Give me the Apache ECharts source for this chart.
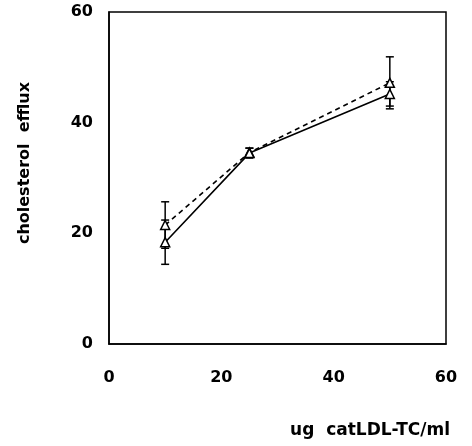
<!DOCTYPE html>
<html><head><meta charset="utf-8">
<script src="https://cdn.jsdelivr.net/npm/echarts@6/dist/echarts.min.js"></script>
<style>html,body{margin:0;padding:0;background:#fff}#c{width:472px;height:446px}</style>
</head><body><div id="c"></div>
<script>
var xValues = [10, 25, 50];
var solidMean = [18.4, 34.5, 45.2];
var solidErr = [4.0, 0.9, 2.2];
var dashedMean = [21.5, 34.6, 47.2];
var dashedErr = [4.2, 0.8, 4.7];
var xTicks = [0, 20, 40, 60];
var yTicks = [0, 20, 40, 60];

function pairs(xs, ys) { return xs.map(function (x, i) { return [x, ys[i]]; }); }
function errData(xs, m, e) { return xs.map(function (x, i) { return [x, m[i] - e[i], m[i] + e[i]]; }); }
function errRender(params, api) {
  var lo = api.coord([api.value(0), api.value(1)]);
  var hi = api.coord([api.value(0), api.value(2)]);
  var w = 4;
  var st = { stroke: '#000', lineWidth: 1.5 };
  return { type: 'group', children: [
    { type: 'line', shape: { x1: lo[0], y1: lo[1], x2: hi[0], y2: hi[1] }, style: st },
    { type: 'line', shape: { x1: lo[0] - w, y1: lo[1], x2: lo[0] + w, y2: lo[1] }, style: st },
    { type: 'line', shape: { x1: hi[0] - w, y1: hi[1], x2: hi[0] + w, y2: hi[1] }, style: st }
  ]};
}
var font = '"DejaVu Sans", Arial, sans-serif';
var chart = echarts.init(document.getElementById('c'), null, { renderer: 'canvas' });
chart.setOption({
  animation: false,
  backgroundColor: '#fff',
  grid: { left: 109, right: 26, top: 12, bottom: 102, show: true, borderColor: '#000', borderWidth: 1.5 },
  xAxis: {
    type: 'value', min: 0, max: 60, interval: 20,
    axisLine: { show: true, lineStyle: { color: '#000', width: 1.5 } },
    axisTick: { show: false }, splitLine: { show: false },
    axisLabel: { margin: 26, color: '#000', fontFamily: font, fontWeight: 'bold', fontSize: 16,
      formatter: function (v) { return xTicks.indexOf(v) >= 0 ? String(v) : ''; } },
    name: 'ug  catLDL-TC/ml', nameLocation: 'end', nameGap: 4,
    nameTextStyle: { color: '#000', fontFamily: font, fontWeight: 'bold', fontSize: 17, align: 'right', verticalAlign: 'top', padding: [78, 0, 0, 0] }
  },
  yAxis: {
    type: 'value', min: 0, max: 60, interval: 20,
    axisLine: { show: true, lineStyle: { color: '#000', width: 1.5 } },
    axisTick: { show: false }, splitLine: { show: false },
    axisLabel: { margin: 16, color: '#000', fontFamily: font, fontWeight: 'bold', fontSize: 16,
      formatter: function (v) { return yTicks.indexOf(v) >= 0 ? String(v) : ''; } },
    name: 'cholesterol  efflux', nameLocation: 'middle', nameGap: 76,
    nameTextStyle: { color: '#000', fontFamily: font, fontWeight: 'bold', fontSize: 16, padding: [0, 0, 0, 30] }
  },
  series: [
    { type: 'custom', renderItem: errRender, data: errData(xValues, dashedMean, dashedErr), encode: { x: 0, y: [1, 2] }, z: 1 },
    { type: 'custom', renderItem: errRender, data: errData(xValues, solidMean, solidErr), encode: { x: 0, y: [1, 2] }, z: 1 },
    { type: 'line', data: pairs(xValues, dashedMean), symbol: 'triangle', symbolSize: 9,
      lineStyle: { color: '#000', width: 1.6, type: [5, 4] },
      itemStyle: { color: '#fff', borderColor: '#000', borderWidth: 1.5 }, z: 3 },
    { type: 'line', data: pairs(xValues, solidMean), symbol: 'triangle', symbolSize: 9,
      lineStyle: { color: '#000', width: 1.6, type: 'solid' },
      itemStyle: { color: '#fff', borderColor: '#000', borderWidth: 1.5 }, z: 3 }
  ]
});
</script></body></html>
